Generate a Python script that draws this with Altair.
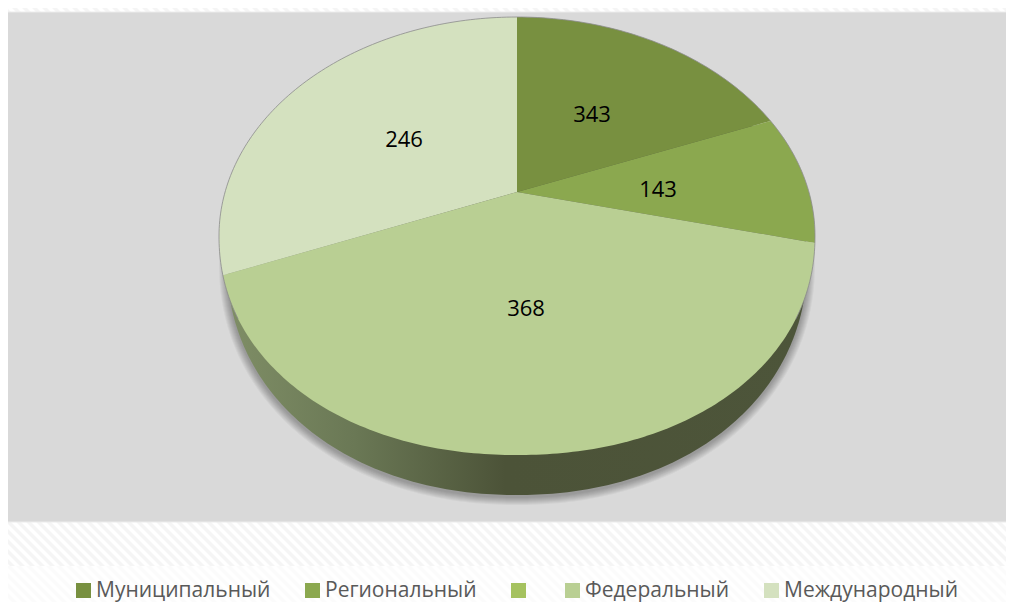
import math
import altair as alt

# ---- values
categories = ["Муниципальный", "Региональный", " ", "Федеральный", "Международный"]
colors = ["#789040", "#8ba84f", "#a5c25f", "#b9cf93", "#d4e1bf"]
slice_names = ["Муниципальный", "Региональный", "Федеральный", "Международный"]
slice_values = [343, 143, 368, 246]
slice_sweep_deg = [58.3, 33.5, 167.9, 100.3]
label_x = [592, 658, 526, 404]
label_y = [115, 190, 309, 140]

FONT = "Open Sans"
W, H = 998, 594
CX, CY, RX, RY = 517, 236, 298, 219
N_TOP, N_BOTTOM = 2.0, 2.1
APEX = (517, 192)


def rim(t, cy=CY, rx=RX, ry=RY):
    a = math.radians(t)
    s, c = math.sin(a), math.cos(a)
    n = N_TOP if c > 0 else N_BOTTOM
    r = (abs(s) ** n + abs(c) ** n) ** (-1 / n)
    return [CX + rx * r * s, cy - ry * r * c]


def arc(t0, t1, **kw):
    steps = max(2, int(abs(t1 - t0)))
    return [rim(t0 + (t1 - t0) * i / steps, **kw) for i in range(steps + 1)]


def poly(pts, **props):
    return {"type": "Feature", "properties": props,
            "geometry": {"type": "Polygon", "coordinates": [pts + [pts[0]]]}}


def rect(x0, y0, x1, y1, **props):
    return poly([[x0, y0], [x1, y0], [x1, y1], [x0, y1]], **props)


def fc(features):
    return alt.Data(values={"type": "FeatureCollection", "features": features},
                    format=alt.DataFormat(type="json", property="features"))


def shape(features, **mark):
    return alt.Chart(fc(features)).mark_geoshape(**mark).project(
        type="identity", scale=1, translate=[-8, -8])


# slices
slices, t = [], 0.0
for name, sweep in zip(slice_names, slice_sweep_deg):
    slices.append(poly([list(APEX)] + arc(t, t + sweep), name=name))
    t += sweep


def stripes(y0, y1, period=10, width=5):
    out, x = [], -(y1 - y0) - 20.0
    while x < 1030:
        out.append(poly([[x, y0], [x + width, y0],
                         [x + width + (y1 - y0), y1], [x + (y1 - y0), y1]]))
        x += period
    return out


x_scale = alt.Scale(domain=[8, 8 + W], range=[0, W])
y_scale = alt.Scale(domain=[8, 8 + H], range=[0, H])

layers = [
    shape(stripes(0, 566), fill="#f5f5f5", stroke=None),
    shape([rect(0, 566, 1014, 610)], fill="#ffffff", stroke=None),
    shape(stripes(566, 610), fill="#fbfbfb", stroke=None),
    shape([rect(7, 12, 1014, 522)], fill="#d9d9d9", stroke="#ececec", strokeWidth=1),
]

# soft shadow below the wall
for k in range(1, 9):
    layers.append(shape([poly(arc(0, 360, cy=264, rx=290 + k, ry=233 + k))],
                        fill="#000000", fillOpacity=0.04, stroke=None))

# side wall
wall_grad = alt.Gradient(
    gradient="linear", x1=0, x2=1, y1=0, y2=0,
    stops=[alt.GradientStop(offset=0, color="#7f8e66"),
           alt.GradientStop(offset=0.22, color="#6a7855"),
           alt.GradientStop(offset=0.48, color="#4c5338"),
           alt.GradientStop(offset=1, color="#4d553a")])
layers.append(shape([poly(arc(0, 360, cy=262, rx=290, ry=233))], fill=wall_grad, stroke=None))

# top face with the legend
layers.append(
    shape(slices, stroke=None).encode(
        color=alt.Color(
            "properties.name:N",
            scale=alt.Scale(domain=categories, range=colors),
            legend=alt.Legend(
                title=None, orient="none", direction="horizontal", columns=5,
                legendX=65, legendY=572, symbolType="square", symbolSize=225,
                symbolStrokeWidth=0, gridAlign="none", columnPadding=31,
                labelFont=FONT, labelFontSize=21, labelColor="#595959",
                labelOffset=2, labelLimit=300, padding=0,
            ),
        )
    )
)

# thin rim line along the upper part of the pie
layers.append(
    alt.Chart(fc([{"type": "Feature", "properties": {},
                   "geometry": {"type": "LineString", "coordinates": arc(-112, 112)}}]))
    .mark_geoshape(filled=False, stroke="#8c8c8c", strokeWidth=0.8)
    .project(type="identity", scale=1, translate=[-8, -8])
)

labels = alt.Chart(alt.Data(values=[
    {"v": str(v), "x": x, "y": y} for v, x, y in zip(slice_values, label_x, label_y)
])).mark_text(font=FONT, fontSize=22, color="#000000", align="center", baseline="middle").encode(
    x=alt.X("x:Q", scale=x_scale, axis=None),
    y=alt.Y("y:Q", scale=y_scale, axis=None),
    text="v:N",
)
layers.append(labels)

chart = alt.layer(*layers).properties(
    width=W, height=H, padding=0, background="#ffffff",
    autosize=alt.AutoSizeParams(type="none"),
).resolve_scale(color="independent").configure_view(stroke=None)

chart.save("out.html", embed_options={"renderer": "svg", "actions": False})
